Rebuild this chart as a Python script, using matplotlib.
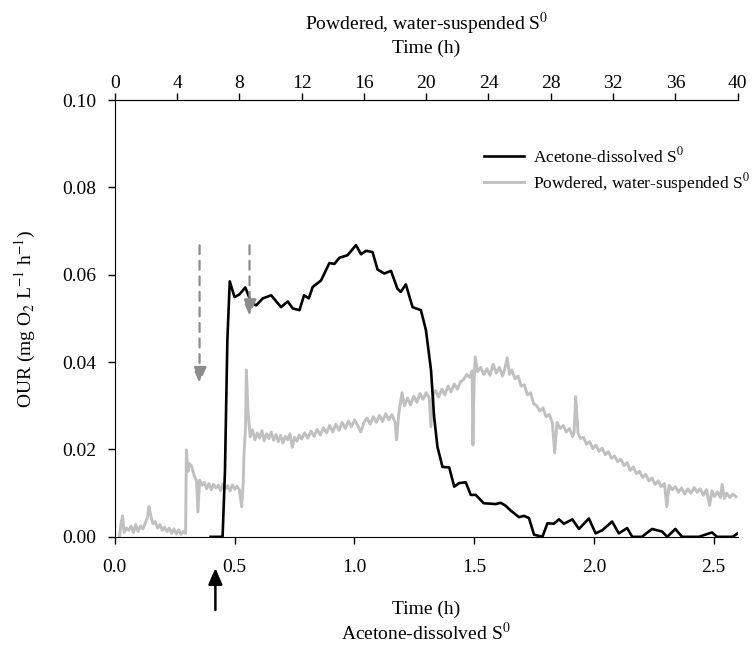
import numpy as np
import matplotlib
matplotlib.use("Agg")
import matplotlib.pyplot as plt

plt.rcParams['font.family'] = ['Liberation Serif', 'DejaVu Serif']
plt.rcParams['mathtext.fontset'] = 'stix'
plt.rcParams['font.size'] = 14

# Acetone-dissolved S0 (bottom axis, h)
black_t = [0.40, 0.45, 0.46, 0.47, 0.48, 0.50, 0.52, 0.545, 0.57, 0.59, 0.618, 0.653,
           0.694, 0.722, 0.743, 0.771, 0.79, 0.81, 0.826, 0.861, 0.896, 0.917, 0.9375,
           0.972, 1.007, 1.028, 1.049, 1.076, 1.097, 1.125, 1.153, 1.18, 1.194, 1.215,
           1.243, 1.278, 1.299, 1.32, 1.333, 1.347, 1.368, 1.396, 1.417, 1.4375, 1.465,
           1.486, 1.507, 1.54, 1.59, 1.611, 1.632, 1.653, 1.6875, 1.708, 1.729, 1.75,
           1.785, 1.806, 1.833, 1.854, 1.875, 1.91, 1.9375, 1.979, 2.007, 2.035, 2.076,
           2.104, 2.139, 2.16, 2.2, 2.243, 2.285, 2.306, 2.34, 2.368, 2.4375, 2.493,
           2.514, 2.58, 2.6]
black_our = [0.0, 0.0, 0.015, 0.045, 0.0585, 0.0549, 0.0555, 0.0571, 0.0536, 0.0530,
             0.0546, 0.0553, 0.0526, 0.0539, 0.0523, 0.0519, 0.0553, 0.0546, 0.0572,
             0.0587, 0.0627, 0.0625, 0.0639, 0.0645, 0.0668, 0.0647, 0.0655, 0.0652,
             0.0612, 0.0603, 0.0609, 0.0568, 0.0561, 0.0578, 0.0526, 0.0519, 0.0473,
             0.0382, 0.0275, 0.0206, 0.0160, 0.0159, 0.0115, 0.0123, 0.0125, 0.0096,
             0.0096, 0.0077, 0.0075, 0.0078, 0.0071, 0.0060, 0.0045, 0.0048, 0.0043,
             0.0005, 0.0, 0.0031, 0.0030, 0.0040, 0.0030, 0.0040, 0.0018, 0.0042,
             0.0008, 0.0015, 0.0035, 0.0008, 0.0020, 0.0, 0.0, 0.0018, 0.0012, 0.0,
             0.0018, 0.0, 0.0, 0.0010, 0.0, 0.0, 0.0008]

# Powdered, water-suspended S0 (top axis, h)
gray_h = [0.3, 0.4, 0.5, 0.6, 0.75, 0.9, 1.05, 1.2, 1.35, 1.5, 1.65, 1.8, 1.95, 2.1, 2.2,
          2.3, 2.45, 2.6, 2.75, 2.9, 3.05, 3.2, 3.35, 3.5, 3.65, 3.8, 3.95, 4.1, 4.25, 4.4,
          4.55, 4.6, 4.7, 4.8, 4.95, 5.1, 5.25, 5.34, 5.45, 5.6, 5.75, 5.9, 6.05, 6.2,
          6.35, 6.5, 6.65, 6.8, 6.95, 7.1, 7.25, 7.4, 7.55, 7.7, 7.85, 8.0, 8.15, 8.25,
          8.3, 8.4, 8.45, 8.55, 8.7, 8.85, 9.0, 9.15, 9.3, 9.45, 9.6, 9.75, 9.9, 10.05,
          10.2, 10.35, 10.5, 10.65, 10.8, 10.95, 11.1, 11.25, 11.4, 11.55, 11.7, 11.85,
          12.0, 12.2, 12.4, 12.6, 12.8, 13.0, 13.2, 13.4, 13.6, 13.8, 14.0, 14.2, 14.4,
          14.6, 14.8, 15.0, 15.2, 15.4, 15.6, 15.8, 16.0, 16.2, 16.4, 16.6, 16.8, 17.0,
          17.2, 17.4, 17.6, 17.8, 18.0, 18.1, 18.25, 18.45, 18.6, 18.8, 19.0, 19.2, 19.4,
          19.6, 19.8, 20.0, 20.2, 20.3, 20.45, 20.6, 20.8, 21.0, 21.2, 21.4, 21.6, 21.8,
          22.0, 22.2, 22.4, 22.6, 22.8, 22.95, 23.0, 23.08, 23.15, 23.3, 23.5, 23.7,
          23.9, 24.1, 24.3, 24.5, 24.7, 24.9, 25.05, 25.2, 25.35, 25.5, 25.7, 25.9, 26.1,
          26.3, 26.5, 26.7, 26.9, 27.1, 27.3, 27.5, 27.7, 27.9, 28.1, 28.25, 28.4, 28.6,
          28.8, 29.0, 29.2, 29.4, 29.5, 29.6, 29.75, 29.9, 30.1, 30.3, 30.5, 30.7, 30.9,
          31.1, 31.3, 31.5, 31.7, 31.9, 32.1, 32.3, 32.5, 32.7, 32.9, 33.1, 33.3, 33.5,
          33.7, 33.9, 34.1, 34.3, 34.5, 34.7, 34.9, 35.1, 35.3, 35.45, 35.6, 35.8, 36.0,
          36.2, 36.4, 36.6, 36.8, 37.0, 37.2, 37.4, 37.6, 37.8, 38.0, 38.2, 38.35, 38.5,
          38.7, 38.9, 39.0, 39.15, 39.3, 39.5, 39.7, 39.9]
gray_our = [0.0, 0.003, 0.0048, 0.001, 0.002, 0.0015, 0.0025, 0.001, 0.0028, 0.0012,
            0.0025, 0.0018, 0.003, 0.0045, 0.0069, 0.005, 0.003, 0.0035, 0.002, 0.0028,
            0.0015, 0.0022, 0.0012, 0.002, 0.0008, 0.0018, 0.0007, 0.0016, 0.0006, 0.0012,
            0.0008, 0.0199, 0.0150, 0.0168, 0.0160, 0.0140, 0.0128, 0.0057, 0.0130, 0.0118,
            0.0125, 0.0110, 0.0122, 0.0108, 0.0120, 0.0112, 0.0118, 0.0106, 0.0121, 0.0110,
            0.0117, 0.0105, 0.0119, 0.0109, 0.0116, 0.0108, 0.0069, 0.0125, 0.0190, 0.0250,
            0.0382, 0.0290, 0.0229, 0.0245, 0.0222, 0.0238, 0.0226, 0.0243, 0.0220, 0.0236,
            0.0225, 0.0240, 0.0221, 0.0234, 0.0218, 0.0232, 0.0215, 0.0230, 0.0222, 0.0236,
            0.0205, 0.0228, 0.0219, 0.0233, 0.0224, 0.0238, 0.0226, 0.0242, 0.0230, 0.0246,
            0.0233, 0.0250, 0.0238, 0.0255, 0.0240, 0.0258, 0.0244, 0.0262, 0.0248, 0.0265,
            0.0252, 0.0268, 0.0255, 0.0240, 0.0262, 0.0272, 0.0258, 0.0275, 0.0262, 0.0278,
            0.0264, 0.0282, 0.0268, 0.0280, 0.0262, 0.0222, 0.0285, 0.0330, 0.0300, 0.0318,
            0.0302, 0.0322, 0.0308, 0.0328, 0.0315, 0.0330, 0.0318, 0.0252, 0.0325, 0.0335,
            0.0320, 0.0338, 0.0325, 0.0345, 0.0332, 0.0350, 0.0338, 0.0355, 0.0360, 0.0372,
            0.0365, 0.0380, 0.0210, 0.0360, 0.0412, 0.0378, 0.0388, 0.0372, 0.0385, 0.0370,
            0.0395, 0.0375, 0.0388, 0.0368, 0.0385, 0.0410, 0.0372, 0.0382, 0.0362, 0.0368,
            0.0345, 0.0348, 0.0325, 0.0330, 0.0305, 0.0300, 0.0288, 0.0295, 0.0275, 0.0280,
            0.0262, 0.0192, 0.0262, 0.0248, 0.0255, 0.0240, 0.0248, 0.0230, 0.0240, 0.0321,
            0.0238, 0.0225, 0.0228, 0.0212, 0.0218, 0.0202, 0.0210, 0.0196, 0.0203, 0.0188,
            0.0195, 0.0180, 0.0185, 0.0172, 0.0178, 0.0163, 0.0170, 0.0152, 0.0160, 0.0145,
            0.0150, 0.0136, 0.0143, 0.0128, 0.0135, 0.0120, 0.0128, 0.0115, 0.0122, 0.0069,
            0.0118, 0.0108, 0.0115, 0.0102, 0.0112, 0.0098, 0.0110, 0.0100, 0.0113, 0.0102,
            0.0110, 0.0095, 0.0108, 0.0072, 0.0105, 0.0092, 0.0103, 0.0090, 0.0120, 0.0088,
            0.0100, 0.0090, 0.0098, 0.0092]

# dashed arrows (bottom axis units): x, start y, tip y
dash_x = [0.354, 0.5625]
dash_top = [0.0674, 0.0674]
dash_tip = [0.0345, 0.0500]
# solid arrow below the axis (acetone addition)
add_x = 0.42

fig = plt.figure(figsize=(7.55, 6.46), dpi=100)
ax = fig.add_axes([0.152, 0.169, 0.825, 0.676])
ax2 = ax.twiny()

l1, = ax.plot(black_t, black_our, color='black', lw=1.9, zorder=3)
l2, = ax2.plot(gray_h, gray_our, color='#c0c0c0', lw=2.1, zorder=2)
ax.set_zorder(ax2.get_zorder() + 1)
ax.patch.set_visible(False)

ax.set_xlim(0, 2.6)
ax.set_ylim(0, 0.10)
ax2.set_xlim(0, 40)
ax.set_xticks([0.0, 0.5, 1.0, 1.5, 2.0, 2.5])
ax.set_xticklabels(['0.0', '0.5', '1.0', '1.5', '2.0', '2.5'])
ax.set_yticks([0.0, 0.02, 0.04, 0.06, 0.08, 0.10])
ax.set_yticklabels(['0.00', '0.02', '0.04', '0.06', '0.08', '0.10'])
ax2.set_xticks(np.arange(0, 41, 4))

for a in (ax, ax2):
    a.spines['right'].set_visible(False)
    a.tick_params(direction='out', length=5, width=1, labelsize=14)
ax2.spines['bottom'].set_visible(False)
ax2.spines['left'].set_visible(False)
ax.tick_params(axis='x', pad=11)
ax.tick_params(axis='y', pad=8)
ax2.tick_params(axis='x', pad=1)

ax.set_xlabel('Time (h)\nAcetone-dissolved S$^{\\mathrm{0}}$', fontsize=14, labelpad=18)
ax2.set_xlabel('Powdered, water-suspended S$^{\\mathrm{0}}$\nTime (h)', fontsize=14, labelpad=16)
ax.set_ylabel('OUR (mg O$_{\\mathrm{2}}$ L$^{\\mathrm{-1}}$ h$^{\\mathrm{-1}}$)', fontsize=14, labelpad=18)

# arrows
for x0, y0, y1 in zip(dash_x, dash_top, dash_tip):
    ax.annotate('', xy=(x0, y1), xytext=(x0, y0),
                arrowprops=dict(arrowstyle='-|>,head_length=0.7,head_width=0.3',
                                color='#8c8c8c', lw=1.6, linestyle=(0, (4, 3))), zorder=4)
ax.annotate('', xy=(add_x, -0.0065), xytext=(add_x, -0.0174),
            arrowprops=dict(arrowstyle='-|>,head_length=0.7,head_width=0.3',
                            color='black', lw=1.8),
            annotation_clip=False)

ax.legend([l1, l2], ['Acetone-dissolved S$^{\\mathrm{0}}$', 'Powdered, water-suspended S$^{\\mathrm{0}}$'],
          loc='upper right', bbox_to_anchor=(1.045, 0.93), frameon=False, fontsize=12.5,
          handlelength=2.3, handletextpad=0.55, labelspacing=0.25)

fig.savefig('out.png', dpi=100)
